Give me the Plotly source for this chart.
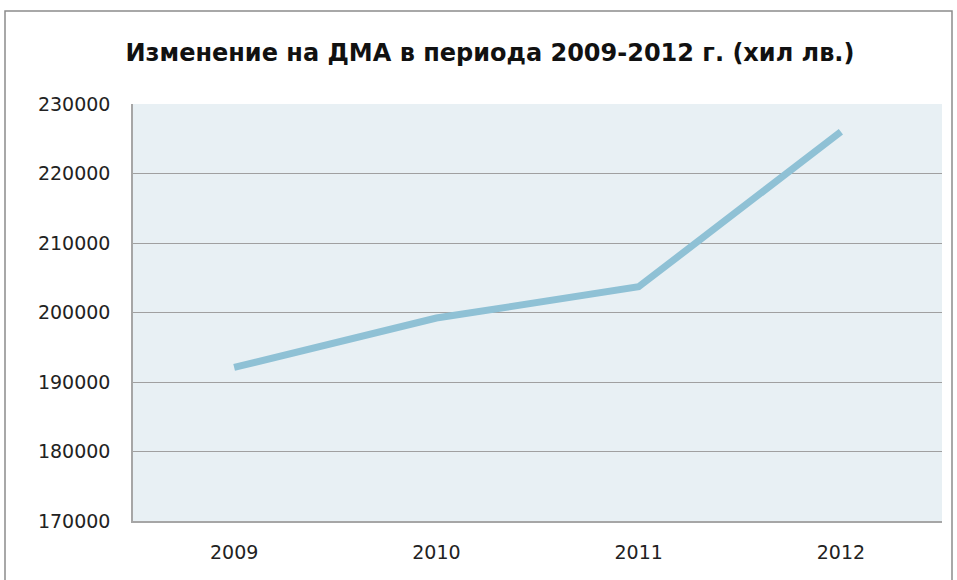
import plotly.graph_objects as go

years = ["2009", "2010", "2011", "2012"]
dma = [192100, 199200, 203700, 226000]
y_ticks = [170000, 180000, 190000, 200000, 210000, 220000, 230000]

font_family = "DejaVu Sans, Open Sans, sans-serif"

fig = go.Figure()
fig.add_trace(
    go.Scatter(
        x=years,
        y=dma,
        mode="lines",
        line=dict(color="#8FC1D5", width=7),
        showlegend=False,
    )
)

fig.update_layout(
    width=957,
    height=580,
    margin=dict(l=133, r=15, t=104, b=59, autoexpand=False),
    paper_bgcolor="white",
    plot_bgcolor="#E8F0F4",
    font=dict(family=font_family, size=19, color="#222222"),
    title=dict(
        text="<b>Изменение на ДМА в периода 2009-2012 г. (хил лв.)</b>",
        x=0.512,
        xanchor="center",
        y=0.91,
        yanchor="middle",
        font=dict(size=24, color="#111111"),
    ),
    shapes=[
        dict(
            type="rect",
            xref="paper",
            yref="paper",
            x0=(5 - 133) / 809,
            x1=(952 - 133) / 809,
            y0=-0.3,
            y1=(521 - 11) / 417,
            line=dict(color="#8C8C8C", width=1.5),
            fillcolor="rgba(0,0,0,0)",
            layer="below",
        )
    ],
)

fig.update_xaxes(
    type="category",
    range=[-0.5, 3.5],
    automargin=False,
    showgrid=False,
    showline=True,
    linecolor="#A6A6A6",
    linewidth=1.5,
    ticks="",
    ticklabelstandoff=13,
    tickfont=dict(size=19),
)
fig.update_yaxes(
    range=[170000, 230000],
    automargin=False,
    tickvals=y_ticks,
    ticktext=[str(v) for v in y_ticks],
    showgrid=True,
    gridcolor="#A0A0A0",
    gridwidth=1.2,
    showline=True,
    linecolor="#A6A6A6",
    linewidth=1.5,
    zeroline=False,
    ticks="",
    ticklabelstandoff=17,
    tickfont=dict(size=19),
)

# drop the default body margin so the figure fills the window exactly
fig.write_html(
    "out.html",
    config={"displayModeBar": False},
    post_script="document.body.style.margin = '0';",
)
